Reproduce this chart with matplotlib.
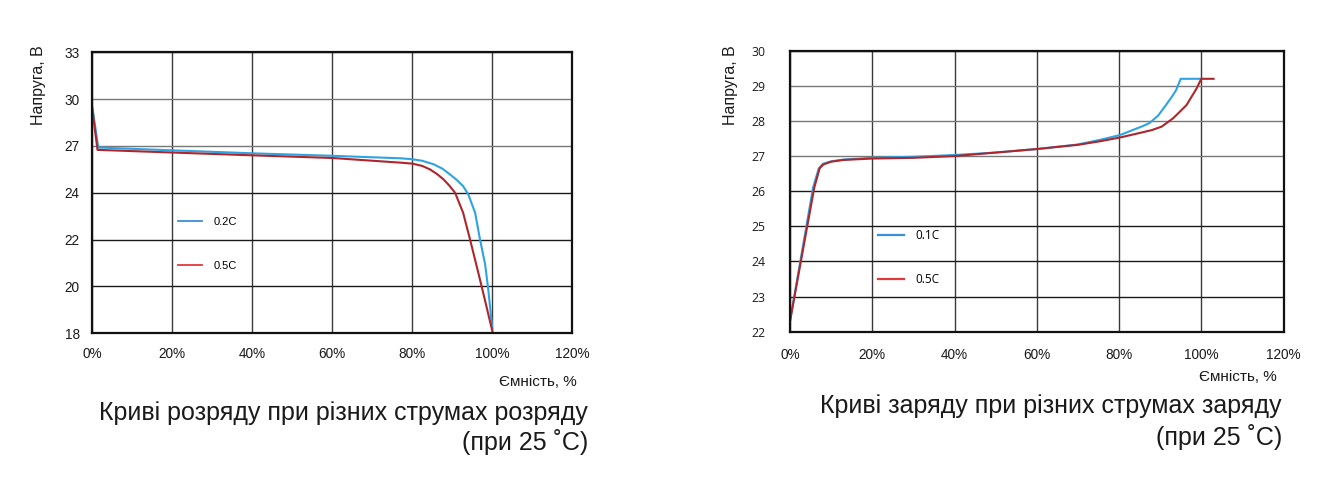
import numpy as np
import matplotlib
matplotlib.use("Agg")
import matplotlib.pyplot as plt
from matplotlib.lines import Line2D

plt.rcParams['font.family'] = ['Liberation Sans', 'DejaVu Sans']

# ---------------- data ----------------
# discharge chart
dis_ticks = [18, 20, 22, 24, 27, 30, 33]
dis_x02 = [0, 1.5, 20, 40, 60, 77.1, 80, 82.5, 85.3, 87.5, 89.4, 91.0, 92.7, 94.0, 95.7, 96.9, 98.2, 99.0, 100]
dis_y02 = [29.5, 26.9, 26.72, 26.53, 26.37, 26.21, 26.15, 26.05, 25.83, 25.55, 25.18, 24.85, 24.43, 23.93, 23.15, 22.03, 20.95, 19.86, 18.2]
dis_x05 = [0, 1.3, 20, 40, 60, 77.1, 80, 82.5, 84.4, 86.2, 87.8, 89.3, 90.7, 92.7, 94.4, 95.9, 97.3, 100]
dis_y05 = [29.36, 26.75, 26.58, 26.4, 26.23, 25.93, 25.87, 25.72, 25.5, 25.2, 24.86, 24.45, 24.0, 23.15, 22.03, 21.0, 20.03, 18.1]

# charge chart
chg_ticks = [22, 23, 24, 25, 26, 27, 28, 29, 30]
chg_x01 = [0, 5.6, 7.0, 8.0, 10, 13, 20, 30, 40, 50, 60, 70, 75.3, 80.3, 83.3, 85.5, 87.4, 89.5, 91.4, 92.8, 93.9, 95.0, 100]
chg_y01 = [22.3, 26.1, 26.65, 26.78, 26.85, 26.9, 26.95, 26.98, 27.03, 27.1, 27.2, 27.33, 27.46, 27.6, 27.74, 27.84, 27.94, 28.15, 28.45, 28.68, 28.88, 29.2, 29.2]
chg_x05 = [0, 5.9, 7.2, 8.1, 10, 13, 20, 30, 40, 50, 60, 70, 75.3, 80.3, 85.1, 88.0, 90.4, 93.2, 96.4, 98.9, 100, 103.0]
chg_y05 = [22.3, 26.1, 26.65, 26.76, 26.84, 26.89, 26.93, 26.95, 27.0, 27.1, 27.2, 27.32, 27.42, 27.53, 27.66, 27.74, 27.84, 28.08, 28.45, 28.93, 29.2, 29.2]

x_ticks = [0, 20, 40, 60, 80, 100, 120]
x_labels = ['0%', '20%', '40%', '60%', '80%', '100%', '120%']

BLUE = '#2ea3e3'
RED = '#ae262b'
LEG_BLUE = '#3a8fd8'
LEG_RED = '#e0393a'

W, H = 1342, 494
fig = plt.figure(figsize=(W / 100, H / 100), dpi=100)


def px_axes(l, t, r, b):
    return fig.add_axes([l / W, 1 - b / H, (r - l) / W, (b - t) / H])


def style(ax):
    ax.set_xlim(0, 120)
    ax.set_xticks(x_ticks)
    ax.set_xticklabels(x_labels)
    ax.grid(True, color='#3a3a3a', linewidth=1.0)
    ax.set_axisbelow(True)
    for s in ax.spines.values():
        s.set_linewidth(1.6)
        s.set_color('#111111')
    ax.tick_params(length=0, labelcolor='#1a1a1a')


# ---- left: discharge ----
ax1 = px_axes(92.3, 52.3, 572.3, 333.3)
idx = np.arange(len(dis_ticks), dtype=float)


def fwd(v):
    return np.interp(v, dis_ticks, idx)


def inv(p):
    return np.interp(p, idx, dis_ticks)


ax1.set_yscale('function', functions=(fwd, inv))
ax1.set_ylim(18, 33)
ax1.set_yticks(dis_ticks)
ax1.set_yticklabels([str(t) for t in dis_ticks])
style(ax1)
ax1.tick_params(axis='y', pad=9, labelsize=9.8)
ax1.tick_params(axis='x', pad=10, labelsize=9.8)
for gl, t in zip(ax1.get_ygridlines(), dis_ticks):
    gl.set_color('#777777' if t in (30, 27) else '#1a1a1a')
ax1.plot(dis_x02, dis_y02, color=BLUE, lw=1.5)
ax1.plot(dis_x05, dis_y05, color=RED, lw=1.5)
h1 = [Line2D([], [], color=LEG_BLUE, lw=1.3), Line2D([], [], color=LEG_RED, lw=1.3)]
ax1.legend(h1, ['0.2C', '0.5C'], loc='center left', bbox_to_anchor=(0.178, 0.318),
           frameon=False, fontsize=8, handlelength=2.2, handletextpad=1.0,
           labelspacing=3.05, borderpad=0, borderaxespad=0)

fig.text(38 / W, 1 - 45 / H, 'Напруга, В', rotation=90, ha='center', va='top', fontsize=11.5, color='#1a1a1a')
fig.text(576.7 / W, 1 - 381.5 / H, 'Ємність, %', ha='right', va='center', fontsize=11, color='#1a1a1a')
fig.text(588 / W, 1 - 413 / H, 'Криві розряду при різних струмах розряду', ha='right', va='center', fontsize=18, color='#1a1a1a')
fig.text(588 / W, 1 - 442 / H, '(при 25 ˚C)', ha='right', va='center', fontsize=18, color='#1a1a1a')

# ---- right: charge ----
ax2 = px_axes(790, 50.7, 1283.5, 331.7)
ax2.set_ylim(22, 30)
ax2.set_yticks(chg_ticks)
ax2.set_yticklabels([str(t) for t in chg_ticks], family=['Open Sans', 'DejaVu Sans'])
style(ax2)
ax2.tick_params(axis='y', pad=18, labelsize=8.8)
ax2.tick_params(axis='x', pad=12, labelsize=9.8)
for gl, t in zip(ax2.get_ygridlines(), chg_ticks):
    gl.set_color('#777777' if t in (27, 28, 29) else '#1a1a1a')
ax2.plot(chg_x01, chg_y01, color=BLUE, lw=1.5)
ax2.plot(chg_x05, chg_y05, color=RED, lw=1.5)
h2 = [Line2D([], [], color=LEG_BLUE, lw=1.6), Line2D([], [], color=LEG_RED, lw=1.6)]
ax2.legend(h2, ['0.1C', '0.5C'], loc='center left', bbox_to_anchor=(0.178, 0.263),
           frameon=False, handlelength=2.2, handletextpad=1.0,
           labelspacing=2.6, borderpad=0, borderaxespad=0,
           prop={'family': ['Open Sans', 'DejaVu Sans'], 'size': 8.5})

fig.text(730 / W, 1 - 45 / H, 'Напруга, В', rotation=90, ha='center', va='top', fontsize=11.5, color='#1a1a1a')
fig.text(1276.7 / W, 1 - 377 / H, 'Ємність, %', ha='right', va='center', fontsize=11, color='#1a1a1a')
fig.text(1282 / W, 1 - 406 / H, 'Криві заряду при різних струмах заряду', ha='right', va='center', fontsize=18, color='#1a1a1a')
fig.text(1282 / W, 1 - 437 / H, '(при 25 ˚C)', ha='right', va='center', fontsize=18, color='#1a1a1a')

fig.savefig('out.png', dpi=100)
